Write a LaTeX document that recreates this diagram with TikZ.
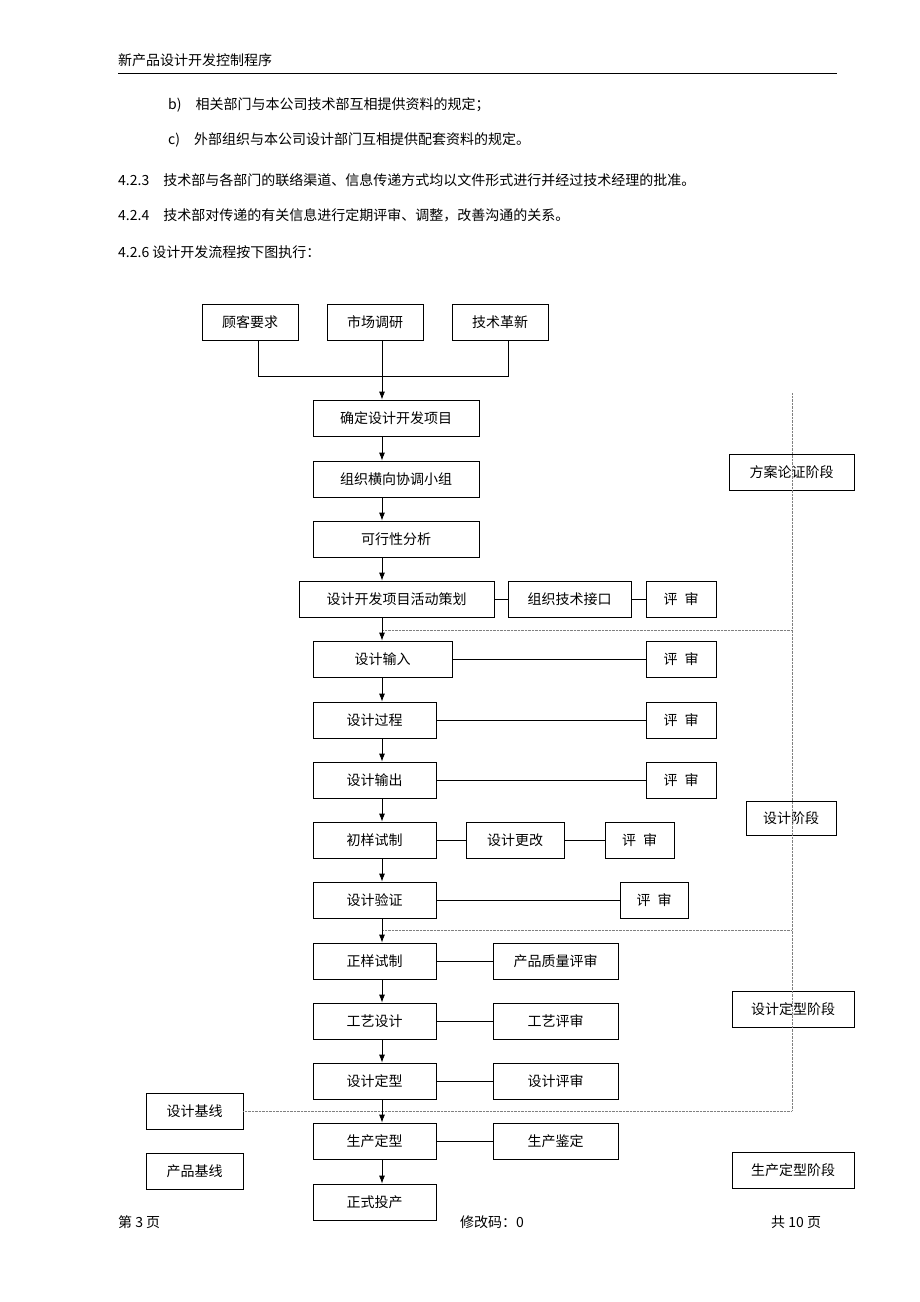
\documentclass[tikz,border=0pt]{standalone}
\usepackage{fontspec}
\setmainfont{Noto Sans CJK SC}
\usetikzlibrary{arrows.meta}
\tikzset{
  box/.style={draw, thick, minimum height=36pt, inner sep=0pt},
  link/.style={thick},
  flow/.style={thick, -{Latex[length=8pt,width=6pt]}},
  phase/.style={densely dotted, gray},
  body/.style={anchor=west, inner sep=0pt}
}
\begin{document}
\begin{tikzpicture}[x=1pt,y=-1pt,font=\fontsize{14}{17}\selectfont]
\useasboundingbox[fill=white] (0,0) rectangle (920,1302);
% Kopfzeile
\node[body] (head) at (118,60) {新产品设计开发控制程序};
\draw (118,73) -- (837,73);
% Text
\node[body] (tb) at (168,105) {b)\quad 相关部门与本公司技术部互相提供资料的规定；};
\node[body] (tc) at (168,140) {c)\quad 外部组织与本公司设计部门互相提供配套资料的规定。};
\node[body] (t3) at (118,180) {4.2.3\quad 技术部与各部门的联络渠道、信息传递方式均以文件形式进行并经过技术经理的批准。};
\node[body] (t4) at (118,215) {4.2.4\quad 技术部对传递的有关信息进行定期评审、调整，改善沟通的关系。};
\node[body] (t6) at (118,252) {4.2.6 设计开发流程按下图执行：};
% Eingaben
\node[box, minimum width=96pt] (kunde) at (250,322) {顾客要求};
\node[box, minimum width=96pt] (markt) at (375,322) {市场调研};
\node[box, minimum width=96pt] (neu) at (500,322) {技术革新};
% Hauptfluss
\node[box, minimum width=166pt] (proj) at (396,418) {确定设计开发项目};
\node[box, minimum width=166pt] (team) at (396,479) {组织横向协调小组};
\node[box, minimum width=166pt] (mach) at (396,539) {可行性分析};
\node[box, minimum width=195pt] (plan) at (396.5,599) {设计开发项目活动策划};
\node[box, minimum width=139pt] (ein) at (382.5,659) {设计输入};
\node[box, minimum width=123pt] (proz) at (374.5,720) {设计过程};
\node[box, minimum width=123pt] (aus) at (374.5,780) {设计输出};
\node[box, minimum width=123pt] (muster) at (374.5,840) {初样试制};
\node[box, minimum width=123pt] (verif) at (374.5,900) {设计验证};
\node[box, minimum width=123pt] (probe) at (374.5,961) {正样试制};
\node[box, minimum width=123pt] (tech) at (374.5,1021) {工艺设计};
\node[box, minimum width=123pt] (fix) at (374.5,1081) {设计定型};
\node[box, minimum width=123pt] (prod) at (374.5,1141) {生产定型};
\node[box, minimum width=123pt] (serie) at (374.5,1202) {正式投产};
% Nebenkaesten
\node[box, minimum width=123pt] (schnitt) at (569.5,599) {组织技术接口};
\node[box, minimum width=70pt] (r1) at (681,599) {评\enspace 审};
\node[box, minimum width=70pt] (r2) at (681,659) {评\enspace 审};
\node[box, minimum width=70pt] (r3) at (681,720) {评\enspace 审};
\node[box, minimum width=70pt] (r4) at (681,780) {评\enspace 审};
\node[box, minimum width=98pt] (aend) at (515,840) {设计更改};
\node[box, minimum width=69pt] (r5) at (639.5,840) {评\enspace 审};
\node[box, minimum width=68pt] (r6) at (654,900) {评\enspace 审};
\node[box, minimum width=125pt] (q1) at (555.5,961) {产品质量评审};
\node[box, minimum width=125pt] (q2) at (555.5,1021) {工艺评审};
\node[box, minimum width=125pt] (q3) at (555.5,1081) {设计评审};
\node[box, minimum width=125pt] (q4) at (555.5,1141) {生产鉴定};
% Basislinien
\node[box, minimum width=97pt] (bl1) at (194.5,1111.5) {设计基线};
\node[box, minimum width=97pt] (bl2) at (194.5,1171) {产品基线};
% Phasen
\node[box, minimum width=125pt] (ph1) at (791.5,472) {方案论证阶段};
\node[box, minimum width=90pt, minimum height=34pt] (ph2) at (791,818) {设计阶段};
\node[box, minimum width=122pt] (ph3) at (793,1009) {设计定型阶段};
\node[box, minimum width=122pt] (ph4) at (793,1170.5) {生产定型阶段};
% Trennlinien
\draw[phase] (792,393) -- (792,1111);
\draw[phase] (382,630) -- (792,630);
\draw[phase] (382,930) -- (792,930);
\draw[phase] (bl1.east) -- (792,1111.5);
% Zusammenfuehrung
\coordinate (jl) at (258,376);
\coordinate (jr) at (508,376);
\draw[link] (kunde.south -| jl) -- (jl) -- (jr) -- (neu.south -| jr);
\draw[flow] (markt.south -| 382,0) -- (proj.north -| 382,0);
% Pfeile
\foreach \a/\b in {proj/team, team/mach, mach/plan, plan/ein, ein/proz, proz/aus,
  aus/muster, muster/verif, verif/probe, probe/tech, tech/fix, fix/prod, prod/serie}
  \draw[flow] (\a.south -| 382,0) -- (\b.north -| 382,0);
% Querverbindungen
\foreach \a/\b in {plan/schnitt, schnitt/r1, ein/r2, proz/r3, aus/r4, muster/aend,
  aend/r5, verif/r6, probe/q1, tech/q2, fix/q3, prod/q4}
  \draw[link] (\a) -- (\b);
% Fusszeile
\node[body] (f1) at (118,1222) {第 3 页};
\node[body] (f2) at (460,1222) {修改码：0};
\node[body] (f3) at (771,1222) {共 10 页};
\end{tikzpicture}
\end{document}
